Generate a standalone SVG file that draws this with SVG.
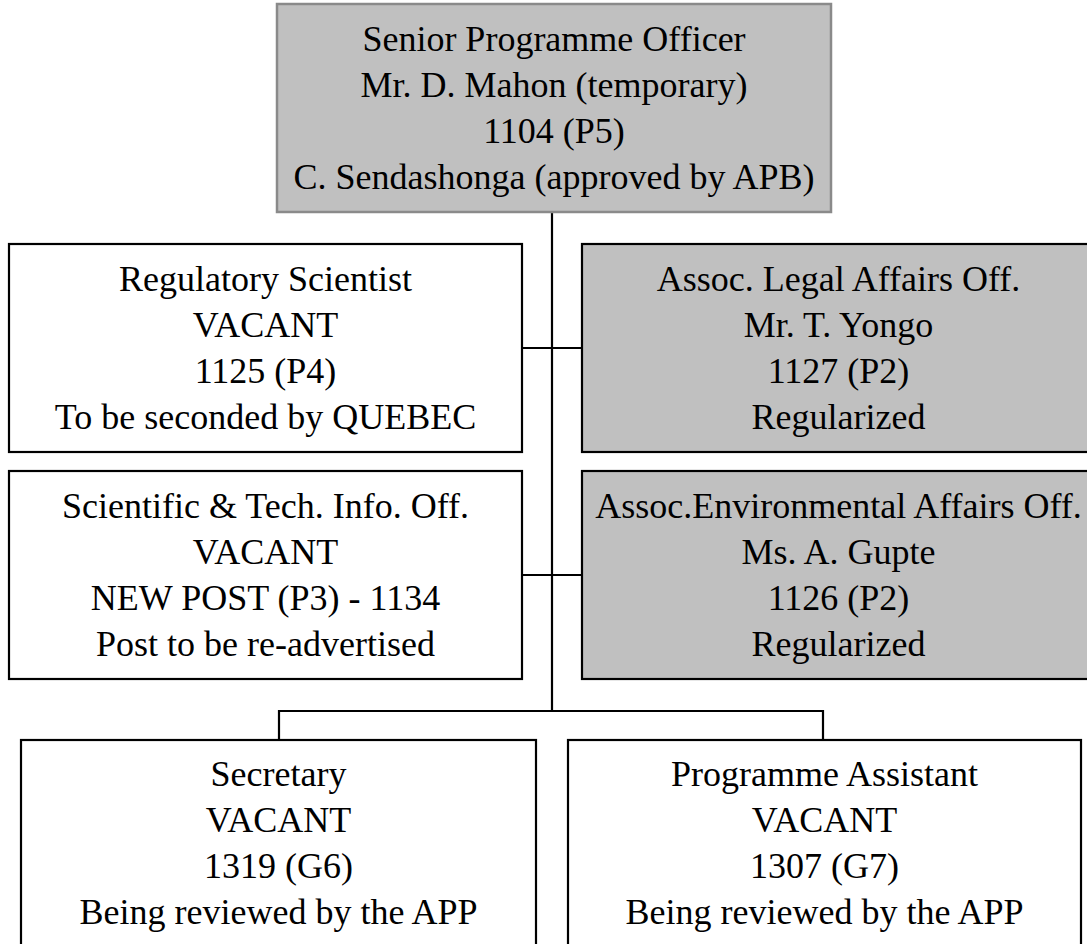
<svg xmlns="http://www.w3.org/2000/svg" width="1087" height="944" viewBox="0 0 1087 944">
<style>
.box{fill:#ffffff;stroke:#000000;stroke-width:2.2}
.grey{fill:#c0c0c0}
.top{fill:#c0c0c0;stroke:#8a8a8a;stroke-width:2.5}
.t{font-family:"Liberation Serif","Times New Roman",serif;font-size:36px;fill:#000000;text-anchor:middle}
.conn{stroke:#000000;stroke-width:2.2;fill:none}
</style>
<rect width="1087" height="944" fill="#ffffff"/>
<g id="connectors">
<path class="conn" d="M552,212 V711"/>
<path class="conn" d="M522,348 H582"/>
<path class="conn" d="M522,575 H582"/>
<path class="conn" d="M279,740 V711 H823 V740"/>
</g>
<g id="senior">
<rect class="top" x="277" y="4" width="554" height="208"/>
<text class="t" x="554" y="51">Senior Programme Officer</text>
<text class="t" x="554" y="97">Mr. D. Mahon (temporary)</text>
<text class="t" x="554" y="143">1104 (P5)</text>
<text class="t" x="554" y="189">C. Sendashonga (approved by APB)</text>
</g>
<g id="regulatory">
<rect class="box" x="9" y="244" width="513" height="208"/>
<text class="t" x="265.5" y="291">Regulatory Scientist</text>
<text class="t" x="265.5" y="337">VACANT</text>
<text class="t" x="265.5" y="383">1125 (P4)</text>
<text class="t" x="265.5" y="429">To be seconded by QUEBEC</text>
</g>
<g id="legal">
<rect class="box grey" x="582" y="244" width="513" height="208"/>
<text class="t" x="838.5" y="291">Assoc. Legal Affairs Off.</text>
<text class="t" x="838.5" y="337">Mr. T. Yongo</text>
<text class="t" x="838.5" y="383">1127 (P2)</text>
<text class="t" x="838.5" y="429">Regularized</text>
</g>
<g id="scientific">
<rect class="box" x="9" y="471" width="513" height="208"/>
<text class="t" x="265.5" y="518">Scientific &amp; Tech. Info. Off.</text>
<text class="t" x="265.5" y="564">VACANT</text>
<text class="t" x="265.5" y="610">NEW POST (P3) - 1134</text>
<text class="t" x="265.5" y="656">Post to be re-advertised</text>
</g>
<g id="environmental">
<rect class="box grey" x="582" y="471" width="513" height="208"/>
<text class="t" x="838.5" y="518">Assoc.Environmental Affairs Off.</text>
<text class="t" x="838.5" y="564">Ms. A. Gupte</text>
<text class="t" x="838.5" y="610">1126 (P2)</text>
<text class="t" x="838.5" y="656">Regularized</text>
</g>
<g id="secretary">
<rect class="box" x="21" y="740" width="515" height="220"/>
<text class="t" x="278.5" y="786">Secretary</text>
<text class="t" x="278.5" y="832">VACANT</text>
<text class="t" x="278.5" y="878">1319 (G6)</text>
<text class="t" x="278.5" y="924">Being reviewed by the APP</text>
</g>
<g id="assistant">
<rect class="box" x="568" y="740" width="513" height="220"/>
<text class="t" x="824.5" y="786">Programme Assistant</text>
<text class="t" x="824.5" y="832">VACANT</text>
<text class="t" x="824.5" y="878">1307 (G7)</text>
<text class="t" x="824.5" y="924">Being reviewed by the APP</text>
</g>
</svg>
